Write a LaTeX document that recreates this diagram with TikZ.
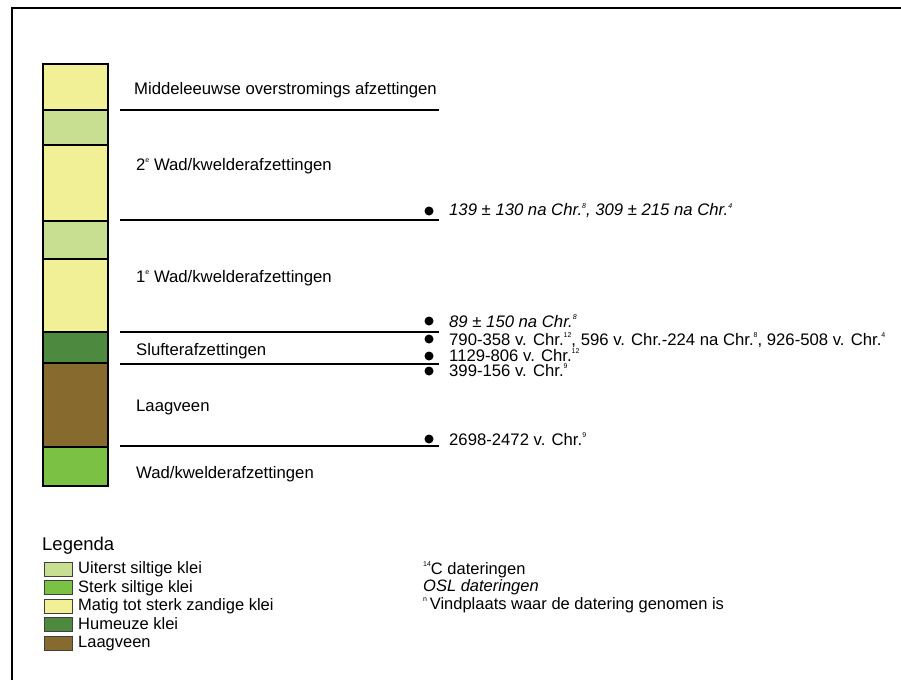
\documentclass[tikz,border=0pt]{standalone}
\usepackage{fontspec}
\setmainfont{Liberation Sans}
\definecolor{cyellow}{HTML}{F2F097}
\definecolor{clight}{HTML}{C8DE90}
\definecolor{cdark}{HTML}{4D8A3F}
\definecolor{cbrown}{HTML}{876A2D}
\definecolor{cgreen}{HTML}{7BC144}
\newcommand{\sps}[1]{\raisebox{0.85ex}{\fontsize{7}{7}\selectfont #1}}
\begin{document}
\begin{tikzpicture}[x=1pt,y=-1pt,
  lbl/.style={anchor=base west, inner sep=0pt, font=\fontsize{16.7}{18}\selectfont},
  leg/.style={anchor=base west, inner sep=0pt, font=\fontsize{16.5}{18}\selectfont},
  layerbox/.style={draw=black, line width=1.3pt},
  rulel/.style={line width=1.1pt},
  dotn/.style={circle, fill=black, inner sep=0pt, minimum size=9pt},
  swatch/.style={draw=black!75, line width=1pt}]
\useasboundingbox (0,0) rectangle (901,680);
% frame
\draw[line width=1.5pt] (12,680) -- (12,8) -- (901,8);
% column
\filldraw[layerbox, fill=cyellow] (43,64) rectangle (108,110);
\filldraw[layerbox, fill=clight] (43,110) rectangle (108,145);
\filldraw[layerbox, fill=cyellow] (43,145) rectangle (108,221);
\filldraw[layerbox, fill=clight] (43,221) rectangle (108,259);
\filldraw[layerbox, fill=cyellow] (43,259) rectangle (108,332);
\filldraw[layerbox, fill=cdark] (43,332) rectangle (108,363);
\filldraw[layerbox, fill=cbrown] (43,363) rectangle (108,447);
\filldraw[layerbox, fill=cgreen] (43,447) rectangle (108,486);
\draw[line width=1.8pt] (43,64) rectangle (108,486);
% rules
\coordinate (r1a) at (120,110); \coordinate (r1b) at (439,110);
\coordinate (r2a) at (120,220); \coordinate (r2b) at (439,220);
\coordinate (r3a) at (120,332); \coordinate (r3b) at (439,332);
\coordinate (r4a) at (120,364); \coordinate (r4b) at (439,364);
\coordinate (r5a) at (120,446); \coordinate (r5b) at (439,446);
\draw[rulel] (r1a) -- (r1b);
\draw[rulel] (r2a) -- (r2b);
\draw[rulel] (r3a) -- (r3b);
\draw[rulel] (r4a) -- (r4b);
\draw[rulel] (r5a) -- (r5b);
% unit labels
\node[lbl] (l1) at (134,94.5) {Middeleeuwse overstromings afzettingen};
\node[lbl] (l2) at (136,170) {2\sps{e} Wad/kwelderafzettingen};
\node[lbl] (l3) at (136,282) {1\sps{e} Wad/kwelderafzettingen};
\node[lbl] (l4) at (136,355) {Slufterafzettingen};
\node[lbl] (l5) at (136,411) {Laagveen};
\node[lbl] (l6) at (136,478) {Wad/kwelderafzettingen};
% dates
\node[dotn] (d1) at (429,211) {};
\node[dotn] (d2) at (429,321) {};
\node[dotn] (d3) at (429,339) {};
\node[dotn] (d4) at (429,356) {};
\node[dotn] (d5) at (429,371) {};
\node[dotn] (d6) at (429,439) {};
\node[lbl] (t1) at (449,215.5) {\itshape 139 ± 130 na Chr.\sps{8}, 309 ± 215 na Chr.\sps{4}};
\node[lbl] (t2) at (449,327) {\itshape 89 ± 150 na Chr.\sps{8}};
\node[lbl] (t3) at (449,345) {790-358 v. Chr.\sps{12}, 596 v. Chr.-224 na Chr.\sps{8}, 926-508 v. Chr.\sps{4}};
\node[lbl] (t4) at (449,361) {1129-806 v. Chr.\sps{12}};
\node[lbl] (t5) at (449,376) {399-156 v. Chr.\sps{9}};
\node[lbl] (t6) at (449,445) {2698-2472 v. Chr.\sps{9}};
% legend
\node[anchor=base west, inner sep=0pt, font=\fontsize{18.5}{20}\selectfont] (lg) at (42,550.5) {Legenda};
\foreach \c/\t/\i in {clight/Uiterst siltige klei/0, cgreen/Sterk siltige klei/1, cyellow/Matig tot sterk zandige klei/2, cdark/Humeuze klei/3, cbrown/Laagveen/4}{
  \filldraw[swatch, fill=\c] (44,562+18.6*\i) rectangle (72,576+18.6*\i);
  \node[leg] (lt\i) at (78,573.5+18.6*\i) {\t};
}
\node[leg] (k1) at (423,574) {\sps{14}C dateringen};
\node[leg] (k2) at (423,591.5) {\itshape OSL dateringen};
\node[leg] (k3) at (423,609) {\sps{n}\,Vindplaats waar de datering genomen is};
\end{tikzpicture}
\end{document}
